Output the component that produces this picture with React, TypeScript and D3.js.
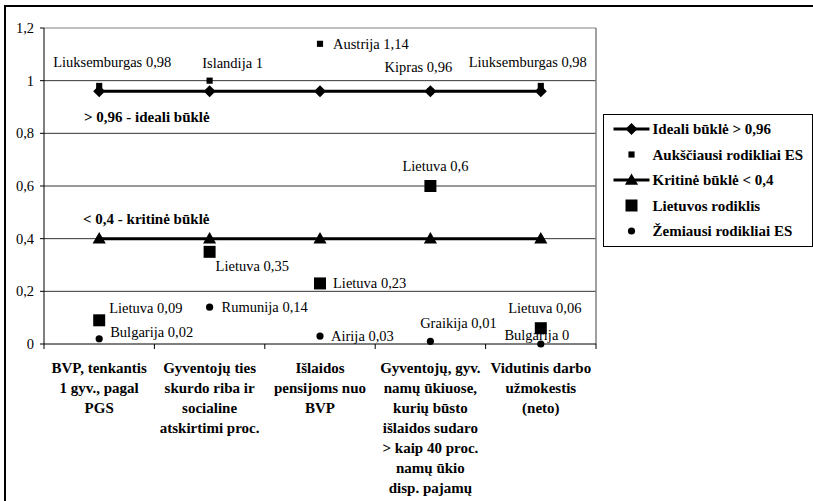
import * as d3 from 'd3';

const W = 813;
const H = 501;

const categories = [
  ['BVP, tenkantis', '1 gyv., pagal', 'PGS'],
  ['Gyventojų ties', 'skurdo riba ir', 'socialine', 'atskirtimi proc.'],
  ['Išlaidos', 'pensijoms nuo', 'BVP'],
  ['Gyventojų, gyv.', 'namų ūkiuose,', 'kurių būsto', 'išlaidos sudaro', '> kaip 40 proc.', 'namų ūkio', 'disp. pajamų'],
  ['Vidutinis darbo', 'užmokestis', '(neto)'],
];

const idealiValues = [0.96, 0.96, 0.96, 0.96, 0.96];
const aukstValues = [0.98, 1, 1.14, 0.96, 0.98];
const aukstLabels = ['Liuksemburgas 0,98', 'Islandija 1', 'Austrija 1,14', 'Kipras 0,96', 'Liuksemburgas 0,98'];
const kritineValues = [0.4, 0.4, 0.4, 0.4, 0.4];
const lietValues = [0.09, 0.35, 0.23, 0.6, 0.06];
const lietLabels = ['Lietuva 0,09', 'Lietuva 0,35', 'Lietuva 0,23', 'Lietuva 0,6', 'Lietuva 0,06'];
const zemValues = [0.02, 0.14, 0.03, 0.01, 0];
const zemLabels = ['Bulgarija 0,02', 'Rumunija 0,14', 'Airija 0,03', 'Graikija 0,01', 'Bulgarija 0'];

const yTicks = [0, 0.2, 0.4, 0.6, 0.8, 1, 1.2];

const legendItems = [
  'Ideali būklė > 0,96',
  'Aukščiausi rodikliai ES',
  'Kritinė būklė < 0,4',
  'Lietuvos rodiklis',
  'Žemiausi rodikliai ES',
];

// label placement relative to the marker: [dx, dy, anchor]
const aukstPlace: [number, number, string][] = [
  [13, -24, 'middle'], [23, -18, 'middle'], [13, 0, 'start'], [-12, -24, 'middle'], [-13, -24, 'middle'],
];
const lietPlace: [number, number, string][] = [
  [10, -12, 'start'], [6, 14, 'start'], [13, 0, 'start'], [5, -20, 'middle'], [4, -20, 'middle'],
];
const zemPlace: [number, number, string][] = [
  [11, -7, 'start'], [12, 0, 'start'], [11, 0, 'start'], [28, -18, 'middle'], [-4, -9, 'middle'],
];

const font = "'Liberation Serif', 'DejaVu Serif', serif";

export default function App() {
  const margin = { left: 44, right: 217, top: 28, bottom: 157 };
  const x = d3
    .scaleBand<number>()
    .domain(categories.map((_, i) => i))
    .range([margin.left, W - margin.right]);
  const y = d3.scaleLinear().domain([0, 1.2]).range([H - margin.bottom, margin.top]);
  const cx = (i: number) => (x(i) as number) + x.bandwidth() / 2;

  const line = d3
    .line<number>()
    .x((_, i) => cx(i))
    .y((d) => y(d));

  const diamond = d3.symbol(d3.symbolSquare, 72)();
  const triangle = d3.symbol(d3.symbolTriangle, 75)();
  const smallSq = d3.symbol(d3.symbolSquare, 38)();
  const bigSq = d3.symbol(d3.symbolSquare, 144)();

  const x0 = margin.left;
  const x1 = W - margin.right;
  const y0 = y(0);

  const markerFor = (k: number, px: number, py: number) => {
    if (k === 0)
      return <path d={diamond} transform={`translate(${px},${py}) rotate(45)`} fill="#000" />;
    if (k === 1) return <path d={smallSq} transform={`translate(${px},${py})`} fill="#000" />;
    if (k === 2) return <path d={triangle} transform={`translate(${px},${py + 1})`} fill="#000" />;
    if (k === 3) return <path d={bigSq} transform={`translate(${px},${py})`} fill="#000" />;
    return <circle cx={px} cy={py} r={3.6} fill="#000" />;
  };

  const label = (txt: string, i: number, v: number, p: [number, number, string], key: string) => (
    <text
      key={key}
      x={cx(i) + p[0]}
      y={y(v) + p[1]}
      textAnchor={p[2] as any}
      dominantBaseline="central"
      fontSize={14.5}
      fontFamily={font}
    >
      {txt}
    </text>
  );

  const legendX = 603.5;
  const legendY = 114.5;

  return (
    <svg
      width={W}
      height={H}
      style={{ position: 'absolute', left: 0, top: 0, background: '#fff' }}
    >
      <style>{`text { font-family: ${font}; }`}</style>
      {/* outer frame */}
      <rect x={5} y={6} width={W + 20} height={H + 20} fill="#fff" stroke="#000" strokeWidth={2} />

      {/* gridlines */}
      {yTicks.slice(1).map((t) => (
        <line key={t} x1={x0} x2={x1} y1={y(t)} y2={y(t)} stroke={t === 1.2 ? '#808080' : '#333'} strokeWidth={1} />
      ))}
      <line x1={x1} x2={x1} y1={y(1.2)} y2={y0} stroke="#808080" strokeWidth={1.5} />

      {/* axes */}
      <line x1={x0} x2={x0} y1={y(1.2)} y2={y0} stroke="#000" strokeWidth={1} />
      <line x1={x0} x2={x1} y1={y0} y2={y0} stroke="#000" strokeWidth={1} />
      {yTicks.map((t) => (
        <g key={t}>
          <line x1={x0 - 4} x2={x0} y1={y(t)} y2={y(t)} stroke="#000" />
          <text x={x0 - 10} y={y(t)} textAnchor="end" dominantBaseline="central" fontSize={14.5}>
            {String(t).replace('.', ',')}
          </text>
        </g>
      ))}
      {categories.map((_, i) => (
        <line key={i} x1={x(i)} x2={x(i)} y1={y0} y2={y0 + 5} stroke="#000" />
      ))}
      <line x1={x1} x2={x1} y1={y0} y2={y0 + 5} stroke="#000" />

      {/* category labels */}
      {categories.map((lines, i) => (
        <text key={i} textAnchor="middle" fontSize={15} fontWeight="bold">
          {lines.map((ln, j) => (
            <tspan key={j} x={cx(i)} y={y0 + 24 + j * 20} dominantBaseline="central">
              {ln}
            </tspan>
          ))}
        </text>
      ))}

      {/* series lines */}
      <path d={line(idealiValues) as string} fill="none" stroke="#000" strokeWidth={3} />
      <path d={line(kritineValues) as string} fill="none" stroke="#000" strokeWidth={3} />

      {idealiValues.map((v, i) => <g key={'i' + i}>{markerFor(0, cx(i), y(v))}</g>)}
      {aukstValues.map((v, i) => <g key={'a' + i}>{markerFor(1, cx(i), y(v))}</g>)}
      {kritineValues.map((v, i) => <g key={'k' + i}>{markerFor(2, cx(i), y(v))}</g>)}
      {lietValues.map((v, i) => <g key={'l' + i}>{markerFor(3, cx(i), y(v))}</g>)}
      {zemValues.map((v, i) => <g key={'z' + i}>{markerFor(4, cx(i), y(v))}</g>)}

      {/* data labels */}
      {aukstValues.map((v, i) => label(aukstLabels[i], i, v, aukstPlace[i], 'al' + i))}
      {lietValues.map((v, i) => label(lietLabels[i], i, v, lietPlace[i], 'll' + i))}
      {zemValues.map((v, i) => label(zemLabels[i], i, v, zemPlace[i], 'zl' + i))}

      {/* threshold notes */}
      <text x={x0 + 40} y={y(0.96) + 26} dominantBaseline="central" fontSize={15} fontWeight="bold">
        {'> 0,96 - ideali būklė'}
      </text>
      <text x={x0 + 39} y={y(0.4) - 20} dominantBaseline="central" fontSize={15} fontWeight="bold">
        {'< 0,4 - kritinė būklė'}
      </text>

      {/* legend */}
      <rect x={legendX} y={legendY} width={209} height={132} fill="#fff" stroke="#000" strokeWidth={1} />
      {legendItems.map((name, k) => {
        const ly = legendY + 14.5 + k * 25.5;
        const mx = legendX + 28;
        return (
          <g key={name}>
            {(k === 0 || k === 2) && (
              <line x1={legendX + 10} x2={legendX + 46} y1={ly} y2={ly} stroke="#000" strokeWidth={3} />
            )}
            {markerFor(k, mx, ly)}
            <text x={legendX + 49} y={ly} dominantBaseline="central" fontSize={15} fontWeight="bold">
              {name}
            </text>
          </g>
        );
      })}
    </svg>
  );
}
